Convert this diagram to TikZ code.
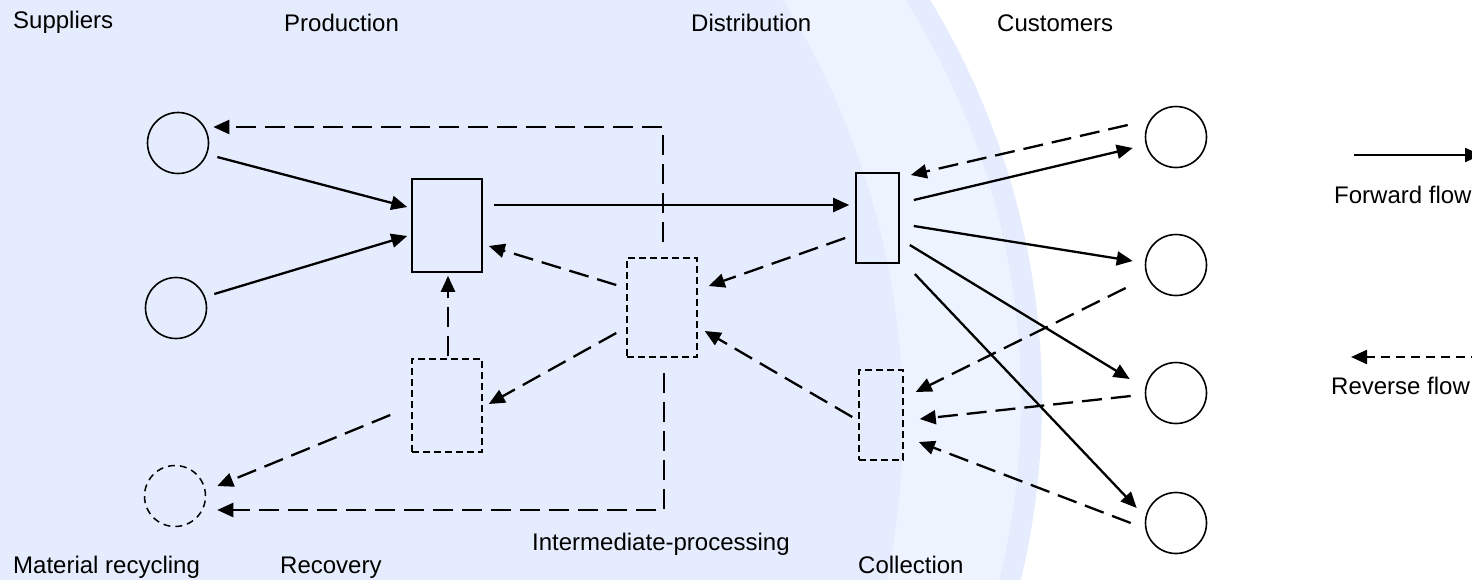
\documentclass[tikz,border=0pt]{standalone}
\usepackage{fontspec}
\setmainfont{Liberation Sans}
\usetikzlibrary{arrows.meta,calc}
\definecolor{lav}{RGB}{229,236,253}
\definecolor{lightlav}{RGB}{237,243,255}
\begin{document}
\begin{tikzpicture}[x=1pt,y=-1pt,
  solidbox/.style={draw, line width=1.6pt, inner sep=0pt},
  dashbox/.style={draw, line width=1.5pt, inner sep=0pt, dash pattern=on 7pt off 4pt},
  ring/.style={draw, circle, line width=1.6pt, minimum size=61pt, inner sep=0pt},
  fwd/.style={line width=2.3pt, -{Triangle[length=16pt,width=14pt]}},
  rev/.style={line width=2.3pt, dash pattern=on 20pt off 9pt, -{Triangle[length=16pt,width=14pt]}},
  legrev/.style={line width=2.3pt, dash pattern=on 9pt off 6pt, -{Triangle[length=16pt,width=14pt]}},
  lbl/.style={anchor=base west, inner sep=0pt, font=\fontsize{24}{28}\selectfont}]
\useasboundingbox (0,0) rectangle (1472,579);
% background
\begin{scope}
\clip (0,0) rectangle (1472,579);
\fill[white] (0,0) rectangle (1472,579);
\fill[lav] (272,400) circle[radius=770pt];
\clip (272,400) circle[radius=749pt];
\fill[lightlav, even odd rule] (272,400) circle[radius=749pt] (108,420) circle[radius=795pt];
\end{scope}
% nodes
\node[ring] (s1) at (178,143) {};
\node[ring] (s2) at (176,308) {};
\node[ring, line width=1.5pt, dash pattern=on 7pt off 5pt] (mr) at (175,496) {};
\node[solidbox, minimum width=70pt, minimum height=93pt] (prod) at (447,225.5) {};
\node[solidbox, minimum width=43pt, minimum height=90pt] (dist) at (877.5,218) {};
\node[dashbox, minimum width=70pt, minimum height=99pt] (inter) at (662,307.5) {};
\node[dashbox, minimum width=70pt, minimum height=93pt] (rec) at (447,405.5) {};
\node[dashbox, minimum width=44pt, minimum height=90pt] (coll) at (881,415) {};
\node[ring] (c1) at (1176,137) {};
\node[ring] (c2) at (1176,265) {};
\node[ring] (c3) at (1176,393) {};
\node[ring] (c4) at (1176,523) {};
% labels
\node[lbl] (lsup) at (13,28) {Suppliers};
\node[lbl] (lprod) at (284,31) {Production};
\node[lbl] (ldist) at (691,31) {Distribution};
\node[lbl] (lcust) at (997,31) {Customers};
\node[lbl] (lmr) at (13,573) {Material recycling};
\node[lbl] (lrec) at (280,573) {Recovery};
\node[lbl] (linter) at (532,550) {Intermediate-processing};
\node[lbl] (lcoll) at (858,573) {Collection};
\node[lbl] (lfwd) at (1334,203) {Forward flow};
\node[lbl] (lrev) at (1331,394) {Reverse flow};
% forward flows
\draw[fwd] ([shift={(8,14)}]s1.east) -- ([shift={(-4,-18.5)}]prod.west);
\draw[fwd] ([shift={(7,-14)}]s2.east) -- ([shift={(-4,10.5)}]prod.west);
\draw[fwd] ([shift={(11,-20.5)}]prod.east) -- ([shift={(-6,-13)}]dist.west);
\draw[fwd] ([shift={(14,-18)}]dist.east) -- ([shift={(-12,11)}]c1.west);
\draw[fwd] ([shift={(14,8)}]dist.east) -- ([shift={(-12,-4)}]c2.west);
\draw[fwd] ([shift={(10,27)}]dist.east) -- ([shift={(-15,-14)}]c3.west);
\draw[fwd] ([shift={(15,56)}]dist.east) -- ([shift={(-8,-15)}]c4.west);
% reverse flows
\draw[rev] ([shift={(-17,-12)}]c1.west) -- ([shift={(11,-43)}]dist.east);
\draw[rev] ([shift={(-19,23)}]c2.west) -- ([shift={(12,-23)}]coll.east);
\draw[rev] ([shift={(-14,3)}]c3.west) -- ([shift={(16,4)}]coll.east);
\draw[rev] ([shift={(-14,0)}]c4.west) -- ([shift={(15,27)}]coll.east);
\draw[rev] ([shift={(-10,20)}]dist.west) -- ([shift={(11,-21.5)}]inter.east);
\draw[rev] ([shift={(-6,2)}]coll.west) -- ([shift={(7,23.5)}]inter.east);
\draw[rev] ([shift={(-10,-22.5)}]inter.west) -- ([shift={(6,20.5)}]prod.east);
\draw[rev] ([shift={(-10,25.5)}]inter.west) -- ([shift={(6,-1.5)}]rec.east);
\draw[rev] ([shift={(1,-2)}]rec.north) -- ([shift={(1,3)}]prod.south);
\draw[rev] ([shift={(-21,9.5)}]rec.west) -- ([shift={(11,-10)}]mr.east);
\draw[rev] ([shift={(1,-15)}]inter.north) |- ([shift={(4,-16)}]s1.east);
\draw[rev] ([shift={(2,15)}]inter.south) |- ([shift={(11,14)}]mr.east);
% legend
\coordinate (ff0) at (1354,155);
\coordinate (ff1) at (1481,155);
\draw[fwd] (ff0) -- (ff1);
\coordinate (rf0) at (1480,357);
\coordinate (rf1) at (1351,357);
\draw[legrev] (rf0) -- (rf1);
\end{tikzpicture}
\end{document}
